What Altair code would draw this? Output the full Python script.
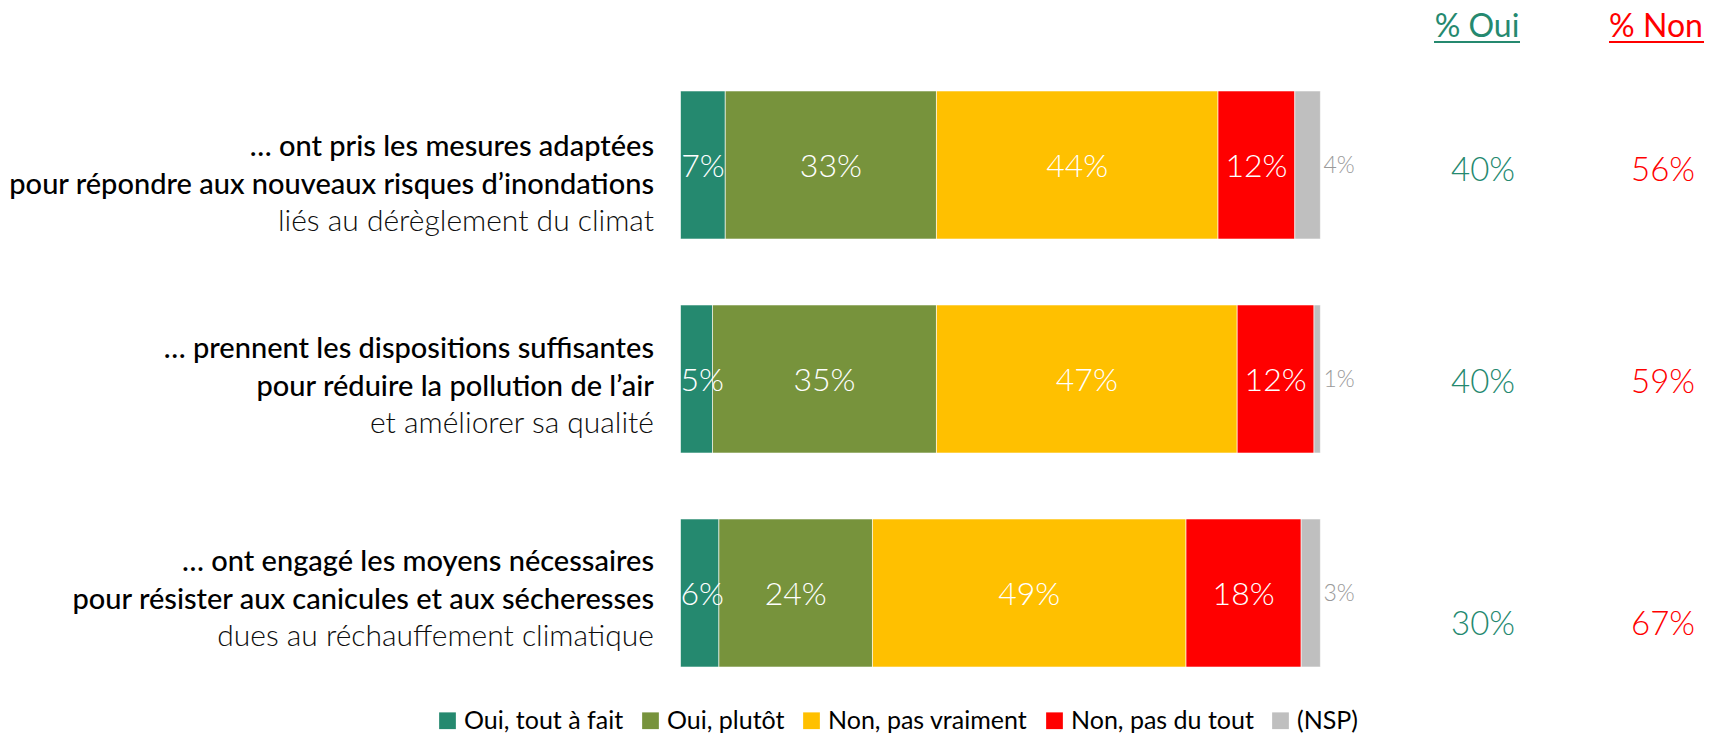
import altair as alt
import pandas as pd

# ---- data ----
categories = ["q1", "q2", "q3"]
line1 = ["… ont pris les mesures adaptées",
         "… prennent les dispositions suffisantes",
         "… ont engagé les moyens nécessaires"]
line2 = ["pour répondre aux nouveaux risques d’inondations",
         "pour réduire la pollution de l’air",
         "pour résister aux canicules et aux sécheresses"]
line3 = ["liés au dérèglement du climat",
         "et améliorer sa qualité",
         "dues au réchauffement climatique"]

responses = ["Oui, tout à fait", "Oui, plutôt", "Non, pas vraiment", "Non, pas du tout", "(NSP)"]
tout_a_fait = [7, 5, 6]
plutot = [33, 35, 24]
pas_vraiment = [44, 47, 49]
pas_du_tout = [12, 12, 18]
nsp = [4, 1, 3]
pct_oui = [40, 40, 30]
pct_non = [56, 59, 67]
headers = ["% Oui", "% Non"]

colors = ["#25896F", "#77933C", "#FFC000", "#FF0000", "#BFBFBF"]
TEAL = "#25896F"
RED = "#FF0000"
FONT = "Lato"

series = [tout_a_fait, plutot, pas_vraiment, pas_du_tout, nsp]
rows = []
for i, q in enumerate(categories):
    for k, resp in enumerate(responses):
        rows.append({"q": q, "resp": resp, "order": k, "value": series[k][i]})
df = pd.DataFrame(rows)

df_cat = pd.DataFrame({"q": categories, "l1": line1, "l2": line2, "l3": line3,
                       "oui": pct_oui, "non": pct_non})

TOP = 20
xs = alt.Scale(domain=[0, 100], range=[672.5, 1312.4], nice=False, zero=False)
ys = alt.Scale(domain=categories, range=[50 - TOP, 692 - TOP], paddingInner=0.308, paddingOuter=0.154)
Y = alt.Y("q:N", scale=ys, axis=None)

base = alt.Chart(df).transform_stack(
    stack="value", groupby=["q"], as_=["x0", "x1"],
    sort=[alt.SortField("order", order="ascending")])

bars = base.mark_bar(stroke="white", strokeWidth=0.6).encode(
    x=alt.X("x0:Q", scale=xs, axis=None),
    x2="x1:Q",
    y=Y,
    color=alt.Color("resp:N", scale=alt.Scale(domain=responses, range=colors),
                    legend=alt.Legend(title=None, orient="none", legendX=427, legendY=700 - TOP,
                                      direction="horizontal", symbolType="square",
                                      symbolSize=280, symbolStrokeWidth=0, symbolOpacity=1,
                                      labelFont=FONT, labelFontSize=25, labelColor="#000000",
                                      labelLimit=0, columnPadding=14, labelOffset=4)),
)

# labels centred in their segment, but kept inside the bar at its left end
seg_labels = base.transform_filter(alt.datum.resp != "(NSP)").transform_calculate(
    mid="max((datum.x0 + datum.x1) / 2, datum.x0 + 3.4)", lab="datum.value + '%'"
).mark_text(font=FONT, fontWeight=300, fontSize=32, color="white",
            baseline="alphabetic", dy=12).encode(
    x=alt.X("mid:Q", scale=xs, axis=None), y=Y, text="lab:N")

nsp_labels = base.transform_filter(alt.datum.resp == "(NSP)").transform_calculate(
    lab="datum.value + '%'"
).mark_text(font=FONT, fontWeight=300, fontSize=23, color="#999999",
            align="left", baseline="alphabetic", dx=3, dy=8).encode(
    x=alt.X("x1:Q", scale=xs, axis=None), y=Y, text="lab:N")

layers = [bars, seg_labels, nsp_labels]

text_nudge = [12, 0, -1]
line_dy = [-21.5, 16.5, 53.5]
value_dy = [16, 14, 42]
cat = alt.Chart(df_cat)
for i, q in enumerate(categories):
    c = cat.transform_filter(alt.datum.q == q)
    for j, (fld, w, col, fs) in enumerate([("l1", 500, "#000000", 29), ("l2", 500, "#000000", 29),
                                           ("l3", 300, "#0D0D0D", 30)]):
        layers.append(c.mark_text(font=FONT, fontSize=fs, fontWeight=w, color=col,
                                  align="right", baseline="alphabetic",
                                  dy=line_dy[j] + text_nudge[i]).encode(
            x=alt.value(646), y=Y, text=f"{fld}:N"))
    layers.append(c.transform_calculate(t="datum.oui + '%'").mark_text(
        font=FONT, fontSize=33, fontWeight=300, color=TEAL, baseline="alphabetic",
        dy=value_dy[i]).encode(x=alt.value(1475), y=Y, text="t:N"))
    layers.append(c.transform_calculate(t="datum.non + '%'").mark_text(
        font=FONT, fontSize=33, fontWeight=300, color=RED, baseline="alphabetic",
        dy=value_dy[i]).encode(x=alt.value(1655), y=Y, text="t:N"))

hdr = alt.Chart(pd.DataFrame({"h": headers}))
for h, xc, x1, x2, col in [(headers[0], 1469, 1426, 1512, TEAL),
                           (headers[1], 1648, 1601, 1696, RED)]:
    hc = hdr.transform_filter(alt.datum.h == h)
    layers.append(hc.mark_text(font=FONT, fontSize=32, color=col, baseline="alphabetic").encode(
        x=alt.value(xc), y=alt.value(29 - TOP), text="h:N"))
    layers.append(hc.mark_rule(color=col, strokeWidth=2).encode(
        x=alt.value(x1), x2=alt.value(x2), y=alt.value(34 - TOP)))

chart = alt.layer(*layers).properties(
    width=1705, height=733 - TOP,
    padding={"top": TOP, "left": 0, "right": 0, "bottom": 0},
    autosize=alt.AutoSizeParams(type="none"),
).configure_view(stroke=None)

chart.save("out.html", embed_options={"renderer": "svg", "actions": False})
